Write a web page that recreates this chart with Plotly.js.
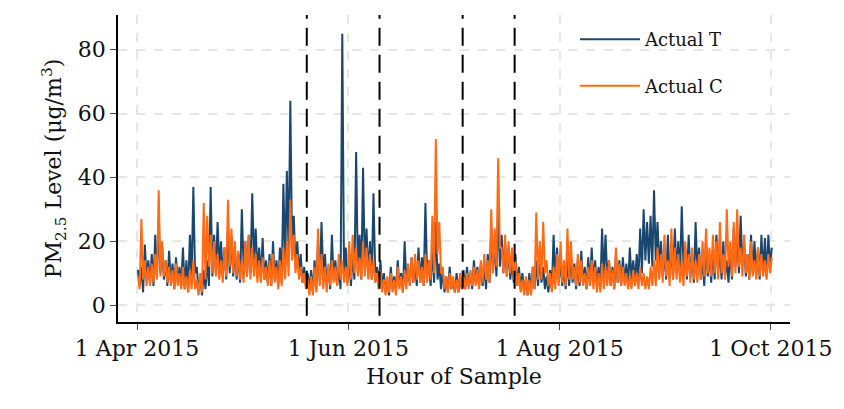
<!DOCTYPE html>
<html>
<head>
<meta charset="utf-8">
<script src="https://cdn.plot.ly/plotly-3.0.1.min.js"></script>
<style>body{margin:0}#plot{width:844px;height:409px}</style>
</head>
<body>
<div id="plot"></div>
<script>
// readings every 12 hours from 1 Apr 2015 (peak, trough per day)
var actualT = [
11,6, 12,4, 19,8, 14,7, 16,6, 22,9, 26,10, 18,8, 14,6, 17,7,
13,5, 15,7, 12,6, 18,5, 14,4, 22,8, 37,10, 12,4, 9,3, 11,5,
14,6, 37,9, 22,10, 26,12, 20,9, 18,8, 24,10, 22,9, 17,8, 16,7,
30,12, 20,9, 22,10, 35,14, 24,10, 18,8, 21,8, 14,7, 16,6, 20,8,
14,6, 18,7, 38,12, 42,16, 64,18, 28,12, 20,10, 16,7, 12,6, 10,5,
11,4, 14,5, 20,7, 26,9, 16,6, 12,5, 22,8, 14,6, 12,5, 85,10,
18,7, 14,6, 16,8, 48,10, 22,8, 43,12, 24,9, 20,8, 35,10, 12,6,
14,5, 10,4, 8,3, 12,5, 9,4, 14,6, 10,4, 20,7, 12,6, 15,7,
13,6, 18,7, 15,6, 32,9, 14,6, 18,7, 26,8, 13,5, 11,4, 9,4,
12,5, 8,4, 10,4, 9,5, 11,5, 12,6, 10,5, 14,7, 12,6, 13,6,
12,5, 16,7, 24,10, 20,9, 30,12, 22,10, 20,9, 18,8, 14,7, 16,6,
12,5, 10,4, 8,3, 10,4, 12,5, 14,6, 16,7, 12,5, 9,4, 11,5,
22,8, 18,7, 14,6, 12,5, 15,6, 16,7, 13,5, 14,6, 17,6, 12,5,
15,6, 18,7, 14,6, 12,5, 24,9, 22,8, 14,6, 12,5, 16,7, 14,6,
15,7, 13,6, 18,8, 14,7, 16,8, 24,10, 30,14, 26,13, 28,12, 36,14,
26,12, 20,9, 16,8, 22,9, 18,8, 24,10, 20,9, 31,12, 18,8, 22,9,
16,7, 26,10, 18,8, 14,6, 20,9, 16,7, 18,8, 22,10, 17,8, 20,9,
14,7, 18,8, 24,12, 22,10, 28,12, 20,9, 16,8, 22,10, 20,9, 18,8,
22,10, 21,9, 22,12, 18
];
var actualC = [
9,5, 27,8, 14,6, 12,6, 13,7, 16,8, 36,9, 20,9, 14,7, 12,6,
11,5, 13,6, 10,5, 12,5, 9,4, 11,5, 14,5, 8,3, 10,4, 32,8,
28,12, 22,10, 20,9, 16,8, 14,7, 18,9, 33,12, 24,10, 20,9, 17,8,
14,7, 20,9, 22,8, 18,9, 16,7, 14,7, 15,8, 12,6, 14,6, 16,7,
12,5, 14,6, 18,8, 20,9, 33,14, 22,10, 16,8, 12,7, 10,5, 8,3,
9,3, 12,4, 24,6, 16,5, 12,4, 13,6, 14,7, 12,6, 16,8, 14,7,
12,6, 20,8, 22,10, 18,9, 15,8, 20,9, 18,8, 16,8, 14,7, 10,5,
11,4, 8,3, 9,4, 10,4, 8,3, 12,5, 9,4, 11,5, 13,6, 15,7,
16,8, 14,7, 12,6, 16,7, 14,8, 28,10, 52,16, 26,10, 12,5, 9,4,
10,5, 9,4, 8,4, 10,5, 9,5, 10,5, 11,6, 12,6, 11,5, 14,7,
16,8, 14,7, 30,10, 24,12, 46,18, 18,10, 22,9, 20,10, 18,8, 14,6,
10,4, 8,3, 9,3, 8,3, 12,5, 29,8, 20,8, 26,10, 14,6, 10,4,
12,5, 16,6, 20,7, 14,6, 24,8, 20,8, 12,6, 16,7, 14,6, 10,5,
12,6, 14,5, 12,4, 10,4, 13,5, 12,6, 14,6, 11,5, 18,7, 13,6,
12,6, 10,5, 9,5, 11,6, 10,5, 12,6, 10,5, 9,5, 12,6, 14,6,
18,8, 16,7, 22,9, 14,6, 24,8, 18,8, 16,7, 14,6, 20,9, 16,7,
18,8, 14,7, 16,8, 20,9, 24,10, 18,9, 22,10, 20,8, 26,10, 16,8,
30,12, 20,9, 26,10, 30,12, 18,9, 22,10, 16,8, 20,9, 14,8, 18,9,
16,9, 14,8, 16,10, 15
];
var breakDates = ['2015-05-20', '2015-06-10', '2015-07-04', '2015-07-19'];
var tickVals = ['2015-04-01', '2015-06-01', '2015-08-01', '2015-10-01'];
var tickText = ['1 Apr 2015', '1 Jun 2015', '1 Aug 2015', '1 Oct 2015'];

function times(n) {
    var start = Date.UTC(2015, 3, 1, 6);
    var out = [];
    for (var i = 0; i < n; i++) out.push(new Date(start + i * 12 * 3600 * 1000).toISOString());
    return out;
}

var data = [
    {x: times(actualT.length), y: actualT, mode: 'lines', name: 'Actual T', legendgroup: 't', line: {color: '#1a476f', width: 2}},
    {x: times(actualC.length), y: actualC, mode: 'lines', name: 'Actual C', legendgroup: 'c', line: {color: '#ff6a13', width: 2}}
];

var shapes = breakDates.map(d => ({
    type: 'line', xref: 'x', yref: 'paper', x0: d, x1: d, y0: 0.02, y1: 1,
    line: {color: 'black', width: 2, dash: '18px,9px'}
}));

var font = {family: 'DejaVu Serif, serif', size: 22, color: '#111'};

var layout = {
    width: 844, height: 409,
    margin: {l: 118, r: 54, t: 15, b: 87},
    paper_bgcolor: 'white', plot_bgcolor: 'white',
    font: font,
    showlegend: true,
    legend: {x: 0.68, y: 0.98, xanchor: 'left', yanchor: 'top', font: {size: 18}, bgcolor: 'rgba(0,0,0,0)', tracegroupgap: 20, itemwidth: 60},
    xaxis: {
        type: 'date', range: ['2015-03-26 12:00', '2015-10-06 12:00'],
        tickvals: tickVals, ticktext: tickText, ticks: 'outside', ticklen: 6,
        showline: true, linecolor: 'black', linewidth: 1.5,
        showgrid: true, gridcolor: '#e6e6e6', griddash: 'dash', gridwidth: 1.5,
        zeroline: false,
        title: {text: 'Hour of Sample', font: font, standoff: 8}
    },
    yaxis: {
        range: [-5.3, 90.9], tickvals: [0, 20, 40, 60, 80], ticks: 'outside', ticklen: 6,
        showline: true, linecolor: 'black', linewidth: 1.5,
        showgrid: true, gridcolor: '#e6e6e6', griddash: 'dash', gridwidth: 1.5,
        zeroline: false,
        title: {text: 'PM<sub>2.5</sub> Level (μg/m<sup>3</sup>)', font: font, standoff: 10}
    },
    shapes: shapes
};

Plotly.newPlot('plot', data, layout, {displayModeBar: false});
</script>
</body>
</html>
